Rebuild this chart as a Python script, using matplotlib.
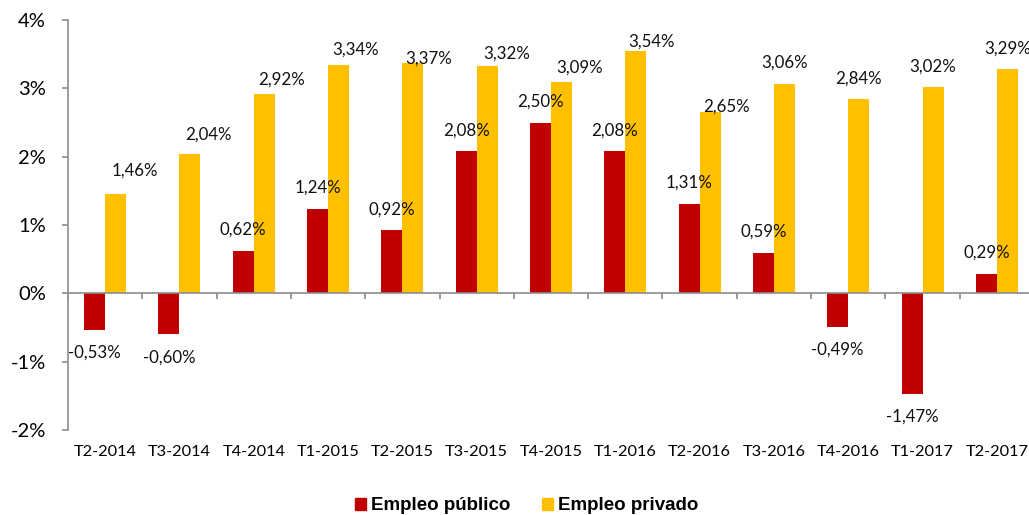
import matplotlib.pyplot as plt
from matplotlib.patches import Patch
import numpy as np

plt.rcParams["font.family"] = ["Lato", "DejaVu Sans"]

quarters = ["T2-2014", "T3-2014", "T4-2014", "T1-2015", "T2-2015", "T3-2015",
            "T4-2015", "T1-2016", "T2-2016", "T3-2016", "T4-2016", "T1-2017",
            "T2-2017"]
publico = [-0.53, -0.60, 0.62, 1.24, 0.92, 2.08, 2.50, 2.08, 1.31, 0.59, -0.49, -1.47, 0.29]
privado = [1.46, 2.04, 2.92, 3.34, 3.37, 3.32, 3.09, 3.54, 2.65, 3.06, 2.84, 3.02, 3.29]

# hand-placed label offsets (pixels) for the yellow series, as in the original
priv_dx = [19, 18, 17.5, 16.5, 16, 19, 18, 16, 16, 0, 0, 0, 0]
priv_dy = [23, 19, 14, 15, 4, 13, 15, 10, 6, 22, 21, 20, 20]

RED = "#C00000"
YELLOW = "#FFC000"
GRAY = "#8c8c8c"
PT = 0.72  # points per pixel at dpi 100

fig = plt.figure(figsize=(10.29, 5.15), dpi=100)
ax = fig.add_axes([68 / 1029, 85 / 515, 966 / 1029, 410 / 515])

x = np.arange(len(quarters))
w = 0.283
ax.bar(x - w / 2, publico, w, color=RED, zorder=2)
ax.bar(x + w / 2, privado, w, color=YELLOW, zorder=2)

def fmt(v):
    return f"{v:.2f}%".replace(".", ",")

for i, v in enumerate(publico):
    dy = 21 if v >= 0 else -23
    ax.annotate(fmt(v), (x[i] - w / 2, v), xytext=(0, dy * PT),
                textcoords="offset points", ha="center", va="center",
                fontsize=12.2, color="#111111")
for i, v in enumerate(privado):
    ax.annotate(fmt(v), (x[i] + w / 2, v), xytext=(priv_dx[i] * PT, priv_dy[i] * PT),
                textcoords="offset points", ha="center", va="center",
                fontsize=12.2, color="#111111")

ax.set_xlim(-0.5, len(quarters) - 0.5)
ax.set_ylim(-2, 4)
ax.set_yticks(range(-2, 5))
ax.set_yticklabels([f"{t}%" for t in range(-2, 5)], fontsize=14.5)
ax.set_xticks(x)
ax.set_xticklabels(quarters, fontsize=11.8)

ax.axhline(0, color=GRAY, lw=1.2, zorder=3)
ax.vlines(np.arange(len(quarters) + 1) - 0.5, 0, -6 * 6 / 410, color=GRAY, lw=1.2, zorder=3)

for s in ["top", "right", "bottom"]:
    ax.spines[s].set_visible(False)
ax.spines["left"].set_color(GRAY)
ax.spines["left"].set_linewidth(1.2)
ax.tick_params(axis="y", length=6 * PT, width=1.2, color=GRAY, pad=11.5)
ax.tick_params(axis="x", length=0, pad=11)

handles = [Patch(color=RED, label="Empleo público"), Patch(color=YELLOW, label="Empleo privado")]
fig.legend(handles=handles, loc="center", bbox_to_anchor=(527 / 1029, 1 - 506 / 515),
           ncol=2, frameon=False, handlelength=0.55, handleheight=0.55,
           handletextpad=0.3, columnspacing=1.7,
           prop={"family": "Liberation Sans", "weight": "bold", "size": 13.5})

fig.savefig("out.png", dpi=100)
